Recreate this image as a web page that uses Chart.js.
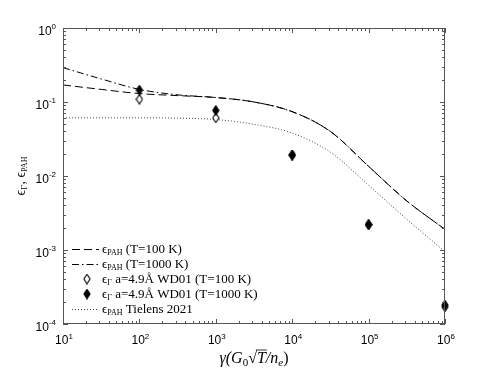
<!DOCTYPE html>
<html>
<head>
<meta charset="utf-8">
<script src="https://cdn.jsdelivr.net/npm/chart.js@4.4.0/dist/chart.umd.min.js"></script>
<style>
  body { margin: 0; background: #fff; }
  canvas { display: block; }
</style>
</head>
<body>
<canvas id="epsChart" width="491" height="368"></canvas>
<script>
"use strict";

// gamma = G0 sqrt(T) / n_e, read at half decades
var gammaGrid = [10, 31.6, 100, 316, 1000, 3162, 1e4, 31623, 1e5, 316228, 1e6];
var epsPah100 = [0.170, 0.148, 0.130, 0.122, 0.115, 0.100, 0.074, 0.040, 0.0135, 0.0046, 0.0019];
var epsPah1000 = [0.291, 0.205, 0.148, 0.125, 0.115, 0.100, 0.074, 0.040, 0.0135, 0.0046, 0.0019];
var epsTielens = [0.061, 0.061, 0.061, 0.0605, 0.058, 0.050, 0.038, 0.021, 0.0075, 0.0026, 0.00095];

var gammaWD = [100, 1000, 1e4, 1e5, 1e6];
var epsWD100 = [0.109, 0.061, 0.0192, 0.0022, 0.00017];
var epsWD1000 = [0.145, 0.077, 0.0192, 0.0022, 0.00018];

var xTicks = [1, 2, 3, 4, 5, 6];
var yTicks = [-4, -3, -2, -1, 0];

var legendRows = [
  { sym: "\u03F5", sub: "PAH", rest: " (T=100 K)" },
  { sym: "\u03F5", sub: "PAH", rest: " (T=1000 K)" },
  { sym: "\u03F5", sub: "\u0393", rest: " a=4.9\u00C5 WD01 (T=100 K)" },
  { sym: "\u03F5", sub: "\u0393", rest: " a=4.9\u00C5 WD01 (T=1000 K)" },
  { sym: "\u03F5", sub: "PAH", rest: " Tielens 2021" },
];

function pairs(xs, ys) {
  return xs.map(function (x, i) {
    return { x: x, y: ys[i] };
  });
}

function diamond(filled) {
  var c = document.createElement("canvas");
  c.width = 8;
  c.height = 11;
  var g = c.getContext("2d");
  g.beginPath();
  g.moveTo(4, 0.8);
  g.lineTo(7.1, 5.5);
  g.lineTo(4, 10.2);
  g.lineTo(0.9, 5.5);
  g.closePath();
  g.fillStyle = filled ? "#000" : "#fff";
  g.fill();
  g.lineWidth = 1.1;
  g.strokeStyle = "#000";
  g.stroke();
  return c;
}

var openDiamond = diamond(false);
var fullDiamond = diamond(true);

var SANS = "'Liberation Sans', Arial, sans-serif";
var SERIF = "'Liberation Serif', 'Times New Roman', serif";

// draw a row of text runs, each {t, font, dy, over}
function drawRuns(ctx, runs, x, y, align) {
  var total = 0;
  runs.forEach(function (r) {
    ctx.font = r.font;
    r.w = ctx.measureText(r.t).width;
    total += r.w;
  });
  var cx = x;
  if (align === "center") cx = x - total / 2;
  if (align === "right") cx = x - total;
  ctx.textAlign = "left";
  ctx.textBaseline = "alphabetic";
  runs.forEach(function (r) {
    ctx.font = r.font;
    ctx.fillText(r.t, cx, y + (r.dy || 0));
    if (r.over) {
      ctx.beginPath();
      ctx.moveTo(cx - 1, y - 13);
      ctx.lineTo(cx + r.w + 1, y - 13);
      ctx.lineWidth = 0.8;
      ctx.stroke();
    }
    cx += r.w;
  });
}

var framePlugin = {
  id: "framePlugin",
  afterDraw: function (chart) {
    var ctx = chart.ctx;
    var a = chart.chartArea;
    var xs = chart.scales.x;
    var ys = chart.scales.y;
    ctx.save();

    // frame
    ctx.strokeStyle = "#555";
    ctx.lineWidth = 1;
    ctx.strokeRect(a.left + 0.5, a.top + 0.5, a.right - a.left - 1, a.bottom - a.top - 1);

    // ticks, inward on all four sides
    ctx.beginPath();
    for (var d = 1; d <= 6; d++) {
      for (var m = 1; m <= 9; m++) {
        var v = m * Math.pow(10, d);
        if (v > 1e6) break;
        var px = Math.round(xs.getPixelForValue(v)) + 0.5;
        var len = m === 1 ? 5 : 3;
        ctx.moveTo(px, a.bottom);
        ctx.lineTo(px, a.bottom - len);
        ctx.moveTo(px, a.top);
        ctx.lineTo(px, a.top + len);
      }
    }
    for (var e = -4; e <= 0; e++) {
      for (var k = 1; k <= 9; k++) {
        var w = k * Math.pow(10, e);
        if (w > 1) break;
        var py = Math.round(ys.getPixelForValue(w)) + 0.5;
        var l2 = k === 1 ? 5 : 3;
        ctx.moveTo(a.left, py);
        ctx.lineTo(a.left + l2, py);
        ctx.moveTo(a.right, py);
        ctx.lineTo(a.right - l2, py);
      }
    }
    ctx.stroke();

    // tick labels
    ctx.fillStyle = "#000";
    xTicks.forEach(function (p) {
      var px = xs.getPixelForValue(Math.pow(10, p));
      drawRuns(ctx, [
        { t: "10", font: "12px " + SANS },
        { t: String(p), font: "8px " + SANS, dy: -5 },
      ], px + 1, 344, "center");
    });
    yTicks.forEach(function (p) {
      var py = ys.getPixelForValue(Math.pow(10, p));
      drawRuns(ctx, [
        { t: "10", font: "12px " + SANS, dy: 7 },
        { t: p === 0 ? "0" : "-" + Math.abs(p), font: "8px " + SANS, dy: 1 },
      ], 56, py, "right");
    });

    // axis titles
    ctx.strokeStyle = "#000";
    drawRuns(ctx, [
      { t: "\u03B3(G", font: "italic 16px " + SERIF },
      { t: "0", font: "11px " + SERIF, dy: 3 },
      { t: "\u221A", font: "16px " + SERIF },
      { t: "T", font: "italic 16px " + SERIF, over: true },
      { t: "/n", font: "italic 16px " + SERIF },
      { t: "e", font: "italic 11px " + SERIF, dy: 3 },
      { t: ")", font: "16px " + SERIF },
    ], (a.left + a.right) / 2, 363, "center");

    ctx.save();
    ctx.translate(25, (a.top + a.bottom) / 2);
    ctx.rotate(-Math.PI / 2);
    drawRuns(ctx, [
      { t: "\u03F5", font: "14px " + SERIF },
      { t: "\u0393", font: "9px " + SERIF, dy: 2 },
      { t: ", \u03F5", font: "14px " + SERIF },
      { t: "PAH", font: "8px " + SERIF, dy: 2 },
    ], 0, 0, "center");
    ctx.restore();

    // legend
    var sets = chart.data.datasets;
    var legendOrder = [0, 1, 3, 4, 2];
    legendOrder.forEach(function (di, row) {
      var ds = sets[di];
      var ly = 249 + row * 15;
      ctx.save();
      if (ds.showLine === false) {
        ctx.drawImage(ds.pointStyle, 87 - 4, ly - 5.5);
      } else {
        ctx.beginPath();
        ctx.setLineDash(ds.borderDash || []);
        ctx.strokeStyle = ds.borderColor;
        ctx.lineWidth = ds.borderWidth;
        ctx.moveTo(72, ly + 0.5);
        ctx.lineTo(99, ly + 0.5);
        ctx.stroke();
      }
      ctx.restore();
      var lr = legendRows[row];
      ctx.fillStyle = "#000";
      drawRuns(ctx, [
        { t: lr.sym, font: "13px " + SERIF },
        { t: lr.sub, font: "8px " + SERIF, dy: 2 },
        { t: lr.rest, font: "13px " + SERIF },
      ], 102, ly + 4, "left");
    });

    ctx.restore();
  },
};

var lineStyle = {
  fill: false,
  pointRadius: 0,
  borderWidth: 1,
  cubicInterpolationMode: "monotone",
  order: 2,
};

var epsChart = new Chart(document.getElementById("epsChart").getContext("2d"), {
  type: "line",
  data: {
    datasets: [
      Object.assign({}, lineStyle, {
        label: "T=100 K",
        data: pairs(gammaGrid, epsPah100),
        borderColor: "#000",
        borderDash: [8, 4],
      }),
      Object.assign({}, lineStyle, {
        label: "T=1000 K",
        data: pairs(gammaGrid, epsPah1000),
        borderColor: "#000",
        borderDash: [7, 3, 1.5, 3],
      }),
      Object.assign({}, lineStyle, {
        label: "Tielens 2021",
        data: pairs(gammaGrid, epsTielens),
        borderColor: "#444",
        borderDash: [1, 2],
      }),
      {
        label: "WD01 T=100 K",
        data: pairs(gammaWD, epsWD100),
        showLine: false,
        pointStyle: openDiamond,
        clip: false,
        order: 1,
      },
      {
        label: "WD01 T=1000 K",
        data: pairs(gammaWD, epsWD1000),
        showLine: false,
        pointStyle: fullDiamond,
        clip: false,
        order: 0,
      },
    ],
  },
  options: {
    responsive: false,
    animation: false,
    devicePixelRatio: 1,
    layout: { padding: { left: 63, right: 46, top: 28, bottom: 44 } },
    plugins: { legend: { display: false }, tooltip: { enabled: false } },
    scales: {
      x: {
        type: "logarithmic",
        min: 10,
        max: 1e6,
        ticks: { display: false },
        grid: { display: false },
        border: { display: false },
        afterFit: function (s) { s.height = 0; },
      },
      y: {
        type: "logarithmic",
        min: 1e-4,
        max: 1,
        ticks: { display: false },
        grid: { display: false },
        border: { display: false },
        afterFit: function (s) { s.width = 0; },
      },
    },
  },
  plugins: [framePlugin],
});
</script>
</body>
</html>
